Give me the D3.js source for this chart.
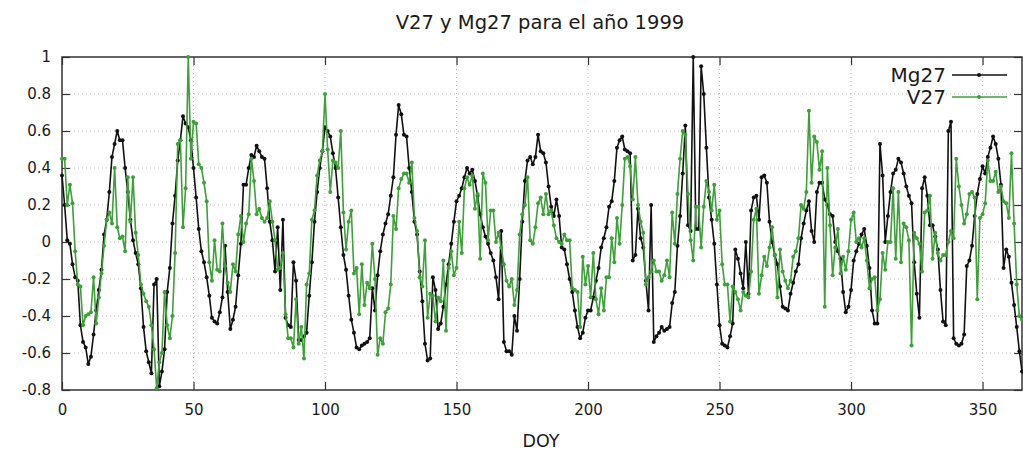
<!DOCTYPE html>
<html>
<head>
<meta charset="utf-8">
<script src="https://cdn.jsdelivr.net/npm/d3@7"></script>
<style>
  body { margin: 0; background: #fff; }
  text { font-family: "DejaVu Sans", sans-serif; fill: #1a1a1a; }
</style>
</head>
<body>
<div id="chart"></div>
<script>
var w = 1023;
var h = 454;
var marginLeft = 62;
var marginRight = 1;
var marginTop = 57;
var marginBottom = 64;

// daily values, DOY 0..365
var mg27 = [
  0.36, 0.20, 0.01, -0.01, -0.12, -0.19, -0.21, -0.45, -0.54, -0.57,
  -0.66, -0.62, -0.50, -0.37, -0.26, -0.15, 0.04, 0.12, 0.27, 0.46,
  0.53, 0.60, 0.55, 0.55, 0.40, 0.27, 0.12, 0.01, -0.06, -0.12,
  -0.25, -0.46, -0.59, -0.65, -0.71, -0.23, -0.20, -0.78, -0.70, -0.58,
  -0.27, -0.14, 0.10, 0.25, 0.44, 0.55, 0.68, 0.64, 0.62, 0.55,
  0.40, 0.24, 0.07, -0.05, -0.11, -0.19, -0.29, -0.41, -0.43, -0.44,
  -0.38, -0.30, -0.02, -0.27, -0.47, -0.42, -0.35, -0.18, -0.01, 0.31,
  0.31, 0.40, 0.47, 0.46, 0.52, 0.49, 0.46, 0.45, 0.29, 0.11,
  0.01, -0.16, 0.08, -0.26, 0.12, -0.41, -0.45, -0.46, -0.11, -0.21,
  -0.53, -0.53, -0.51, -0.49, -0.29, -0.11, 0.11, 0.27, 0.40, 0.49,
  0.62, 0.60, 0.57, 0.48, 0.40, 0.24, 0.08, -0.07, -0.15, -0.29,
  -0.42, -0.49, -0.57, -0.58, -0.56, -0.55, -0.54, -0.52, -0.25, -0.37,
  -0.18, -0.05, 0.04, 0.10, 0.15, 0.25, 0.35, 0.58, 0.74, 0.69,
  0.58, 0.57, 0.40, 0.27, 0.11, 0.04, -0.16, -0.32, -0.55, -0.64,
  -0.63, -0.19, -0.26, -0.47, -0.44, -0.35, -0.23, -0.12, -0.01, 0.11,
  0.22, 0.25, 0.29, 0.35, 0.40, 0.37, 0.39, 0.33, 0.25, 0.15,
  0.08, 0.03, -0.01, -0.06, -0.10, -0.19, -0.31, 0.06, -0.54, -0.59,
  -0.59, -0.61, -0.40, -0.48, -0.20, 0.11, 0.33, 0.44, 0.46, 0.42,
  0.46, 0.58, 0.49, 0.48, 0.43, 0.30, 0.19, 0.14, 0.23, 0.14,
  -0.03, -0.04, -0.12, -0.20, -0.27, -0.37, -0.46, -0.52, -0.49, -0.41,
  -0.37, -0.37, -0.30, -0.21, -0.14, -0.03, 0.02, 0.08, 0.19, 0.22,
  0.33, 0.51, 0.55, 0.57, 0.50, 0.49, 0.48, -0.10, -0.07, 0.18,
  0.02, -0.03, -0.21, -0.37, 0.20, -0.54, -0.51, -0.49, -0.46, -0.48,
  -0.47, -0.46, -0.33, -0.27, -0.02, 0.14, 0.37, 0.63, 0.09, 0.06,
  1.00, 0.07, 0.07, 0.95, 0.80, 0.51, 0.24, 0.12, -0.01, -0.23,
  -0.45, -0.55, -0.56, -0.57, -0.51, -0.44, -0.04, -0.09, -0.17, -0.25,
  0.00, -0.28, 0.17, 0.24, 0.25, 0.12, 0.35, 0.36, 0.32, 0.11,
  0.00, -0.07, -0.12, -0.24, -0.35, -0.36, -0.37, -0.28, -0.22, -0.16,
  -0.12, 0.02, 0.10, 0.17, 0.22, 0.06, 0.00, 0.27, 0.32, 0.32,
  0.23, 0.20, 0.15, 0.14, 0.00, -0.05, -0.09, -0.27, -0.38, -0.35,
  -0.26, -0.10, -0.05, -0.01, 0.04, 0.07, -0.02, -0.14, -0.37, -0.44,
  -0.44, 0.53, 0.36, 0.00, 0.14, 0.27, 0.37, 0.39, 0.45, 0.43,
  0.37, 0.30, 0.25, 0.21, -0.11, -0.28, -0.41, 0.29, 0.35, 0.25,
  0.09, 0.09, 0.03, -0.04, -0.26, -0.43, -0.45, 0.60, 0.65, -0.52,
  -0.55, -0.56, -0.55, -0.50, -0.13, -0.10, -0.02, 0.14, 0.26, 0.34,
  0.41, 0.37, 0.46, 0.51, 0.57, 0.53, 0.45, 0.31, -0.14, -0.04,
  -0.08, -0.22, -0.34, -0.46, -0.59, -0.70
];

var v27 = [
  0.45, 0.45, 0.20, 0.31, 0.21, -0.05, -0.23, -0.24, -0.45, -0.40,
  -0.39, -0.38, -0.19, -0.44, -0.30, -0.17, -0.02, 0.12, 0.16, 0.10,
  0.40, 0.08, 0.02, 0.03, -0.05, 0.35, 0.11, 0.35, 0.05, -0.07,
  -0.23, -0.28, -0.32, -0.35, -0.45, -0.58, -0.79, -0.65, -0.60, -0.27,
  -0.45, -0.52, -0.40, -0.06, 0.53, 0.55, 0.08, 0.29, 1.00, 0.45,
  0.65, 0.64, 0.42, 0.40, 0.32, 0.22, -0.11, -0.21, 0.01, -0.15,
  -0.16, 0.10, -0.13, -0.22, -0.27, -0.12, -0.16, 0.04, 0.14, 0.00,
  0.10, 0.15, 0.45, 0.33, 0.15, 0.18, 0.13, 0.11, 0.13, 0.22,
  0.11, 0.01, -0.15, -0.14, -0.06, -0.39, -0.52, -0.52, -0.57, -0.31,
  -0.55, -0.46, -0.63, -0.23, -0.17, 0.12, 0.17, 0.36, 0.44, 0.49,
  0.80, 0.50, 0.27, 0.44, 0.43, 0.40, 0.60, 0.16, -0.04, 0.11,
  0.17, -0.17, -0.14, -0.39, -0.12, -0.34, -0.22, -0.25, -0.01, -0.20,
  -0.61, -0.52, -0.55, -0.38, -0.36, -0.23, 0.14, 0.07, 0.29, 0.34,
  0.37, 0.37, 0.32, 0.43, 0.13, 0.06, -0.19, -0.24, 0.01, -0.41,
  -0.28, -0.29, -0.43, -0.30, -0.32, -0.10, -0.48, -0.14, -0.05, -0.18,
  -0.14, 0.11, -0.06, 0.29, 0.35, 0.31, 0.36, 0.18, 0.26, -0.09,
  0.37, 0.32, 0.01, 0.17, 0.17, 0.00, 0.05, -0.03, -0.12, -0.21,
  -0.24, -0.20, -0.34, -0.26, 0.04, 0.15, 0.20, 0.35, 0.01, -0.01,
  0.08, 0.21, 0.24, 0.15, 0.26, 0.15, 0.17, 0.09, 0.02, 0.00,
  -0.01, 0.04, 0.01, 0.01, -0.25, -0.26, -0.27, -0.46, -0.08, -0.23,
  -0.13, -0.30, -0.06, -0.31, -0.39, -0.25, -0.37, -0.19, -0.19, 0.02,
  -0.11, 0.13, -0.01, 0.20, 0.45, 0.46, 0.41, 0.23, 0.46, 0.20,
  0.11, 0.05, -0.23, -0.19, -0.16, -0.10, -0.16, -0.16, -0.21, -0.18,
  -0.10, -0.19, 0.16, -0.01, 0.26, 0.45, 0.60, 0.58, 0.26, 0.01,
  -0.10, 0.19, 0.19, -0.03, 0.19, 0.33, 0.27, 0.17, 0.31, 0.12,
  0.17, -0.12, -0.23, -0.23, -0.43, -0.24, -0.27, -0.31, -0.37, -0.27,
  -0.29, -0.30, -0.16, 0.12, 0.18, -0.28, -0.18, -0.08, -0.13, -0.03,
  0.08, -0.07, -0.30, -0.04, -0.16, -0.21, -0.25, -0.21, -0.08, -0.05,
  0.02, 0.20, 0.18, 0.27, 0.71, 0.32, 0.57, 0.54, 0.39, 0.49,
  -0.35, 0.40, 0.09, -0.18, -0.03, 0.07, -0.17, -0.08, -0.15, -0.05,
  0.12, 0.16, 0.00, 0.02, -0.03, 0.02, -0.10, -0.25, -0.20, -0.19,
  -0.37, -0.31, -0.06, -0.15, 0.00, 0.00, 0.29, -0.09, 0.27, -0.11,
  0.10, 0.08, 0.01, -0.56, 0.05, 0.02, -0.01, -0.16, 0.16, 0.17,
  0.25, -0.09, 0.05, -0.06, -0.10, -0.07, -0.07, 0.00, 0.06, 0.02,
  0.45, 0.30, 0.20, 0.10, 0.15, 0.26, 0.27, 0.24, -0.31, 0.13,
  0.15, 0.21, 0.44, 0.33, 0.33, 0.38, 0.27, 0.30, 0.22, 0.21,
  0.13, 0.48, 0.10, -0.23, -0.40, -0.42
];

var xTicks = [0, 50, 100, 150, 200, 250, 300, 350];
var yTicks = [-0.8, -0.6, -0.4, -0.2, 0, 0.2, 0.4, 0.6, 0.8, 1];
var yTickLabels = ["-0.8", "-0.6", "-0.4", "-0.2", "0", "0.2", "0.4", "0.6", "0.8", "1"];
var seriesNames = ["Mg27", "V27"];
var seriesColors = ["#111111", "#3f9f3a"];

var svg = d3.select("#chart")
  .append("svg")
  .attr("width", w)
  .attr("height", h);

var x = d3.scaleLinear()
  .domain([0, 365])
  .range([marginLeft, w - marginRight]);

var y = d3.scaleLinear()
  .domain([-0.8, 1])
  .range([h - marginBottom, marginTop]);

// dotted grid
svg.append("g")
  .selectAll("line")
  .data(xTicks.slice(1))
  .enter().append("line")
  .attr("x1", function(d) { return x(d); })
  .attr("x2", function(d) { return x(d); })
  .attr("y1", y.range()[0])
  .attr("y2", y.range()[1])
  .attr("stroke", "#bdbdbd")
  .attr("stroke-dasharray", "1,3");

svg.append("g")
  .selectAll("line")
  .data(yTicks.slice(1, -1))
  .enter().append("line")
  .attr("x1", x.range()[0])
  .attr("x2", x.range()[1])
  .attr("y1", function(d) { return y(d); })
  .attr("y2", function(d) { return y(d); })
  .attr("stroke", "#bdbdbd")
  .attr("stroke-dasharray", "1,3");

// axes, ticks pointing inwards like gnuplot
var yAxis = d3.axisLeft(y)
  .tickValues(yTicks)
  .tickFormat(function(d, i) { return yTickLabels[i]; })
  .tickSizeInner(-8)
  .tickSizeOuter(0)
  .tickPadding(11);

var xAxis = d3.axisBottom(x)
  .tickValues(xTicks)
  .tickFormat(d3.format("d"))
  .tickSizeInner(-8)
  .tickSizeOuter(0)
  .tickPadding(14);

var gy = svg.append("g")
  .attr("transform", "translate(" + marginLeft + ",0)")
  .call(yAxis);

var gx = svg.append("g")
  .attr("transform", "translate(0," + (h - marginBottom) + ")")
  .call(xAxis);

svg.append("g")
  .attr("transform", "translate(0," + marginTop + ")")
  .call(d3.axisTop(x).tickValues(xTicks).tickFormat("").tickSizeInner(-8).tickSizeOuter(0));

svg.append("g")
  .attr("transform", "translate(" + (w - marginRight) + ",0)")
  .call(d3.axisRight(y).tickValues(yTicks).tickFormat("").tickSizeInner(-8).tickSizeOuter(0));

svg.selectAll(".domain").remove();
svg.selectAll(".tick line").attr("stroke", "#333").attr("stroke-width", 1.2);
svg.selectAll(".tick text")
  .style("font-size", "15px")
  .attr("fill", "#1a1a1a");

// border
svg.append("rect")
  .attr("x", x.range()[0])
  .attr("y", y.range()[1])
  .attr("width", x.range()[1] - x.range()[0])
  .attr("height", y.range()[0] - y.range()[1])
  .attr("fill", "none")
  .attr("stroke", "#333")
  .attr("stroke-width", 1.5);

var line = d3.line()
  .x(function(d, i) { return x(i); })
  .y(function(d) { return y(d); });

var series = [mg27, v27];

series.forEach(function(values, k) {
  var g = svg.append("g");
  g.append("path")
    .attr("d", line(values))
    .attr("fill", "none")
    .attr("stroke", seriesColors[k])
    .attr("stroke-width", 1.6)
    .attr("stroke-linejoin", "round");
  g.selectAll("circle")
    .data(values)
    .enter().append("circle")
    .attr("cx", function(d, i) { return x(i); })
    .attr("cy", function(d) { return y(d); })
    .attr("r", 2)
    .attr("fill", seriesColors[k]);
});

// legend
var legend = svg.append("g")
  .selectAll("g")
  .data(seriesNames)
  .enter().append("g")
  .attr("transform", function(d, i) {
    return "translate(0," + (75 + i * 22) + ")";
  });

legend.append("text")
  .attr("x", 946)
  .attr("dy", "0.36em")
  .attr("text-anchor", "end")
  .style("font-size", "20px")
  .text(function(d) { return d; });

legend.append("line")
  .attr("x1", 952)
  .attr("x2", 1007)
  .attr("stroke", function(d, i) { return seriesColors[i]; })
  .attr("stroke-width", 1.6);

legend.append("circle")
  .attr("cx", 979)
  .attr("r", 2)
  .attr("fill", function(d, i) { return seriesColors[i]; });

svg.append("text")
  .attr("x", 540)
  .attr("y", 29)
  .attr("text-anchor", "middle")
  .style("font-size", "19.5px")
  .text("V27 y Mg27 para el año 1999");

svg.append("text")
  .attr("x", 541)
  .attr("y", 447)
  .attr("text-anchor", "middle")
  .style("font-size", "17.5px")
  .text("DOY");
</script>
</body>
</html>
